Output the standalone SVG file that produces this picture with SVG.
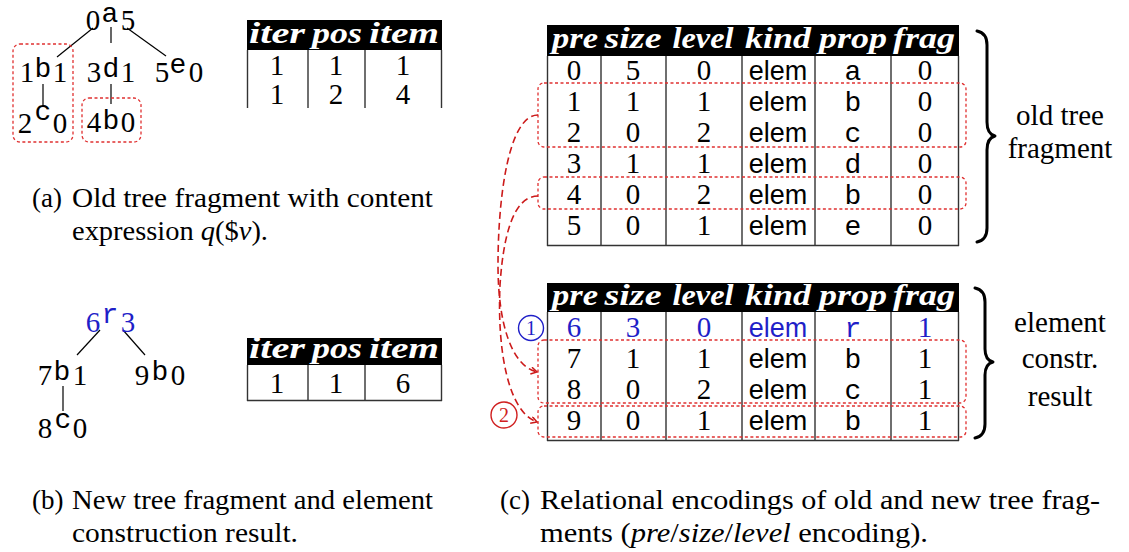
<svg xmlns="http://www.w3.org/2000/svg" width="1129" height="552" viewBox="0 0 1129 552">
<defs>
<style>
.d{font-family:"Liberation Serif","DejaVu Serif","Times New Roman",serif;font-size:29px;text-anchor:middle;fill:#000}
.t{font-family:"Liberation Mono","DejaVu Sans Mono",monospace;font-size:28px;text-anchor:middle;fill:#000}
.s{font-family:"Liberation Sans","DejaVu Sans",sans-serif;font-size:27px;text-anchor:middle;fill:#000}
.h{font-family:"Liberation Serif","DejaVu Serif","Times New Roman",serif;font-size:30px;font-weight:bold;font-style:italic;text-anchor:middle;fill:#fff}
.cap{font-family:"Liberation Serif","DejaVu Serif","Times New Roman",serif;font-size:27px;fill:#000}
.br{font-family:"Liberation Serif","DejaVu Serif","Times New Roman",serif;font-size:29px;fill:#000;text-anchor:middle}
.blue{fill:#1f1fc8}
.edge{stroke:#000;stroke-width:1.2;fill:none}
.grid{stroke:#333;stroke-width:1.4;fill:none}
.dot{stroke:#e03030;stroke-width:1.3;fill:none;stroke-dasharray:3 2.5}
.curve{stroke:#cc1a1a;stroke-width:1.6;fill:none;stroke-dasharray:7 4}
.brace{stroke:#000;stroke-width:3;fill:none;stroke-linecap:round;stroke-linejoin:round}
</style>
<marker id="ah" markerWidth="10" markerHeight="10" refX="7" refY="4" orient="auto" markerUnits="userSpaceOnUse">
<path d="M1,0.5 L7,4 L1,7.5" stroke="#cc1a1a" stroke-width="1.5" fill="none"/>
</marker>
</defs>
<rect width="1129" height="552" fill="#fff"/>

<!-- Tree (a) -->
<g id="connectors-a">
<line class="edge" x1="93" y1="28" x2="57" y2="57"/>
<line class="edge" x1="111" y1="27" x2="111" y2="43"/>
<line class="edge" x1="127" y1="28" x2="166" y2="56"/>
<line class="edge" x1="43" y1="84" x2="43" y2="107"/>
<line class="edge" x1="111" y1="84" x2="111" y2="104"/>
</g>
<g id="node-a"><text class="d" x="93" y="30">0</text><text class="t" x="110" y="22">a</text><text class="d" x="128" y="30">5</text></g>
<g id="node-b1"><text class="d" x="27" y="82">1</text><text class="t" x="43" y="77">b</text><text class="d" x="60" y="82">1</text></g>
<g id="node-d3"><text class="d" x="94" y="82">3</text><text class="t" x="111" y="77">d</text><text class="d" x="128" y="82">1</text></g>
<g id="node-e5"><text class="d" x="162" y="82">5</text><text class="t" x="178" y="73">e</text><text class="d" x="196" y="82">0</text></g>
<g id="node-c2"><text class="d" x="25" y="133">2</text><text class="t" x="43" y="120">c</text><text class="d" x="60" y="133">0</text></g>
<g id="node-b4"><text class="d" x="94" y="132">4</text><text class="t" x="111" y="129">b</text><text class="d" x="128" y="132">0</text></g>
<g id="frag-boxes-a">
<rect class="dot" x="13" y="44" width="60" height="98" rx="7"/>
<rect class="dot" x="82" y="98" width="59" height="44" rx="7"/>
</g>

<!-- small table 1 -->
<g id="table-iter-1">
<rect x="247" y="20" width="195" height="30" fill="#000"/>
<text class="h" x="277" y="43" textLength="56" lengthAdjust="spacingAndGlyphs">iter</text><text class="h" x="337" y="43" textLength="50" lengthAdjust="spacingAndGlyphs">pos</text><text class="h" x="404" y="43" textLength="70" lengthAdjust="spacingAndGlyphs">item</text>
<path class="grid" d="M247.5,50 V108 M308,50 V108 M365,50 V108 M441.5,50 V108"/>
<text class="d" x="277" y="75">1</text><text class="d" x="336" y="75">1</text><text class="d" x="403" y="75">1</text>
<text class="d" x="277" y="104">1</text><text class="d" x="336" y="104">2</text><text class="d" x="403" y="104">4</text>
</g>

<text class="cap" x="32" y="207">(a)</text>
<text class="cap" x="72" y="207" textLength="361" lengthAdjust="spacingAndGlyphs">Old tree fragment with content</text>
<text class="cap" x="72" y="240" textLength="196" lengthAdjust="spacingAndGlyphs">expression <tspan font-style="italic">q</tspan>($<tspan font-style="italic">v</tspan>).</text>

<!-- Tree (b) -->
<g id="connectors-b">
<line class="edge" x1="100" y1="330" x2="77" y2="355"/>
<line class="edge" x1="123" y1="330" x2="145" y2="355"/>
<line class="edge" x1="63" y1="386" x2="63" y2="411"/>
</g>
<g id="node-r6"><text class="d blue" x="93" y="332">6</text><text class="t blue" x="110" y="323">r</text><text class="d blue" x="128" y="332">3</text></g>
<g id="node-b7"><text class="d" x="45" y="385">7</text><text class="t" x="62" y="380">b</text><text class="d" x="80" y="385">1</text></g>
<g id="node-b9"><text class="d" x="142" y="385">9</text><text class="t" x="160" y="380">b</text><text class="d" x="178" y="385">0</text></g>
<g id="node-c8"><text class="d" x="45" y="438">8</text><text class="t" x="63" y="428">c</text><text class="d" x="80" y="438">0</text></g>

<!-- small table 2 -->
<g id="table-iter-2">
<rect x="247" y="338" width="195" height="27" fill="#000"/>
<text class="h" x="277" y="358" textLength="56" lengthAdjust="spacingAndGlyphs">iter</text><text class="h" x="337" y="358" textLength="50" lengthAdjust="spacingAndGlyphs">pos</text><text class="h" x="404" y="358" textLength="70" lengthAdjust="spacingAndGlyphs">item</text>
<path class="grid" d="M247.5,365 V401 M308,365 V401 M365,365 V401 M441.5,365 V401 M247,400.5 H442"/>
<text class="d" x="277" y="393">1</text><text class="d" x="336" y="393">1</text><text class="d" x="403" y="393">6</text>
</g>

<text class="cap" x="32" y="509">(b)</text>
<text class="cap" x="72" y="509" textLength="361" lengthAdjust="spacingAndGlyphs">New tree fragment and element</text>
<text class="cap" x="72" y="542" textLength="226" lengthAdjust="spacingAndGlyphs">construction result.</text>

<!-- big table 1 -->
<g id="table-old">
<rect x="547" y="25" width="412" height="31" fill="#000"/>
<text class="h" x="575" y="48" textLength="46" lengthAdjust="spacingAndGlyphs">pre</text><text class="h" x="633" y="48" textLength="57" lengthAdjust="spacingAndGlyphs">size</text><text class="h" x="703" y="48" textLength="61" lengthAdjust="spacingAndGlyphs">level</text><text class="h" x="778" y="48" textLength="66" lengthAdjust="spacingAndGlyphs">kind</text><text class="h" x="853" y="48" textLength="68" lengthAdjust="spacingAndGlyphs">prop</text><text class="h" x="924" y="48" textLength="62" lengthAdjust="spacingAndGlyphs">frag</text>
<path class="grid" d="M547.5,56 V246 M601,56 V246 M666,56 V246 M742,56 V246 M815,56 V246 M891,56 V246 M958.5,56 V246 M547,245.5 H959"/>
<g>
<text class="d" x="574" y="80">0</text><text class="d" x="633" y="80">5</text><text class="d" x="704" y="80">0</text><text class="s" x="778" y="80">elem</text><text class="t" x="853" y="80">a</text><text class="d" x="925" y="80">0</text>
<text class="d" x="574" y="111">1</text><text class="d" x="633" y="111">1</text><text class="d" x="704" y="111">1</text><text class="s" x="778" y="111">elem</text><text class="t" x="853" y="111">b</text><text class="d" x="925" y="111">0</text>
<text class="d" x="574" y="142">2</text><text class="d" x="633" y="142">0</text><text class="d" x="704" y="142">2</text><text class="s" x="778" y="142">elem</text><text class="t" x="853" y="142">c</text><text class="d" x="925" y="142">0</text>
<text class="d" x="574" y="173">3</text><text class="d" x="633" y="173">1</text><text class="d" x="704" y="173">1</text><text class="s" x="778" y="173">elem</text><text class="t" x="853" y="173">d</text><text class="d" x="925" y="173">0</text>
<text class="d" x="574" y="204">4</text><text class="d" x="633" y="204">0</text><text class="d" x="704" y="204">2</text><text class="s" x="778" y="204">elem</text><text class="t" x="853" y="204">b</text><text class="d" x="925" y="204">0</text>
<text class="d" x="574" y="235">5</text><text class="d" x="633" y="235">0</text><text class="d" x="704" y="235">1</text><text class="s" x="778" y="235">elem</text><text class="t" x="853" y="235">e</text><text class="d" x="925" y="235">0</text>
</g>
<rect class="dot" x="538" y="83" width="428" height="64" rx="6"/>
<rect class="dot" x="538" y="177" width="428" height="32" rx="6"/>
</g>
<g id="brace-old">
<path class="brace" d="M977,31 Q987,33 987,45 V122 Q987,134 995,136 Q987,138 987,150 V228 Q987,240 977,242"/>
<text class="br" x="1060" y="125">old tree</text>
<text class="br" x="1060" y="158">fragment</text>
</g>

<!-- big table 2 -->
<g id="table-new">
<rect x="547" y="283" width="412" height="29" fill="#000"/>
<text class="h" x="575" y="305" textLength="46" lengthAdjust="spacingAndGlyphs">pre</text><text class="h" x="633" y="305" textLength="57" lengthAdjust="spacingAndGlyphs">size</text><text class="h" x="703" y="305" textLength="61" lengthAdjust="spacingAndGlyphs">level</text><text class="h" x="778" y="305" textLength="66" lengthAdjust="spacingAndGlyphs">kind</text><text class="h" x="853" y="305" textLength="68" lengthAdjust="spacingAndGlyphs">prop</text><text class="h" x="924" y="305" textLength="62" lengthAdjust="spacingAndGlyphs">frag</text>
<path class="grid" d="M547.5,312 V441 M601,312 V441 M666,312 V441 M742,312 V441 M815,312 V441 M891,312 V441 M958.5,312 V441 M547,440.5 H959"/>
<text class="d blue" x="574" y="337">6</text><text class="d blue" x="633" y="337">3</text><text class="d blue" x="704" y="337">0</text><text class="s blue" x="778" y="337">elem</text><text class="t blue" x="853" y="337">r</text><text class="d blue" x="925" y="337">1</text>
<text class="d" x="574" y="368">7</text><text class="d" x="633" y="368">1</text><text class="d" x="704" y="368">1</text><text class="s" x="778" y="368">elem</text><text class="t" x="853" y="368">b</text><text class="d" x="925" y="368">1</text>
<text class="d" x="574" y="399">8</text><text class="d" x="633" y="399">0</text><text class="d" x="704" y="399">2</text><text class="s" x="778" y="399">elem</text><text class="t" x="853" y="399">c</text><text class="d" x="925" y="399">1</text>
<text class="d" x="574" y="430">9</text><text class="d" x="633" y="430">0</text><text class="d" x="704" y="430">1</text><text class="s" x="778" y="430">elem</text><text class="t" x="853" y="430">b</text><text class="d" x="925" y="430">1</text>
<rect class="dot" x="538" y="340" width="428" height="63" rx="6"/>
<rect class="dot" x="538" y="406" width="428" height="31" rx="6"/>
</g>
<g id="brace-new">
<path class="brace" d="M975,288 Q985,290 985,302 V349 Q985,360 993,362 Q985,364 985,375 V424 Q985,436 975,438"/>
<text class="br" x="1060" y="332">element</text>
<text class="br" x="1060" y="368">constr.</text>
<text class="br" x="1060" y="406">result</text>
</g>

<g id="markers">
<circle cx="531" cy="328" r="12.5" fill="none" stroke="#1f1fc8" stroke-width="1.4"/>
<text x="531" y="335" font-family="'Liberation Serif','DejaVu Serif',serif" font-size="20" text-anchor="middle" fill="#1f1fc8">1</text>
<circle cx="504" cy="415" r="13" fill="none" stroke="#d02020" stroke-width="1.4"/>
<text x="504" y="422" font-family="'Liberation Serif','DejaVu Serif',serif" font-size="20" text-anchor="middle" fill="#d02020">2</text>
</g>

<g id="connectors">
<path class="curve" d="M538,115 C508,115 498,200 498,265 C498,325 512,366 537,372" marker-end="url(#ah)"/>
<path class="curve" d="M538,196 C512,196 503,240 500,285 C497,350 508,412 537,422" marker-end="url(#ah)"/>
</g>

<text class="cap" x="500" y="509">(c)</text>
<text class="cap" x="540" y="509" textLength="560" lengthAdjust="spacingAndGlyphs">Relational encodings of old and new tree frag-</text>
<text class="cap" x="540" y="542" textLength="388" lengthAdjust="spacingAndGlyphs">ments (<tspan font-style="italic">pre</tspan>/<tspan font-style="italic">size</tspan>/<tspan font-style="italic">level</tspan> encoding).</text>
</svg>
